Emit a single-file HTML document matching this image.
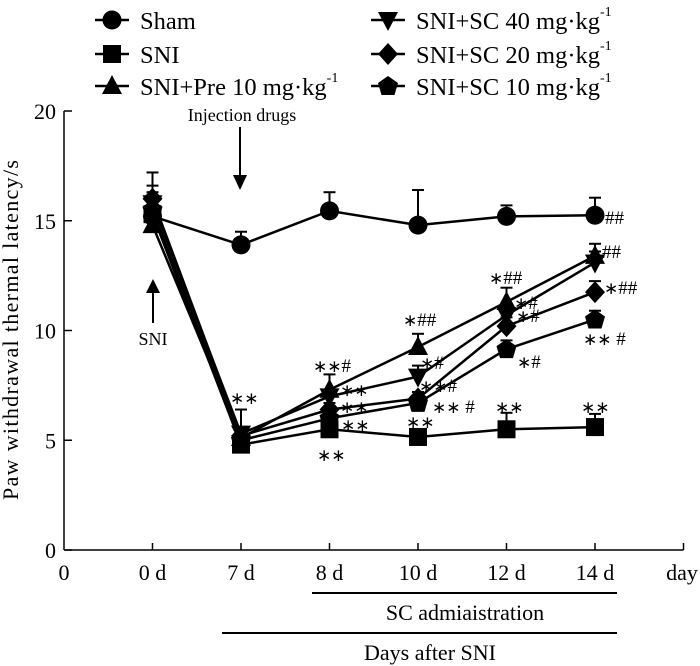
<!DOCTYPE html>
<html><head><meta charset="utf-8"><style>
body{margin:0;background:#fff}
svg{display:block;font-family:"Liberation Serif","Times New Roman",serif}
</style></head><body>
<svg id="chart" width="700" height="666" viewBox="0 0 700 666">
<g id="axes"></g>
<g id="series"></g>
<g id="legend"></g>
<g id="annot"></g>
</svg>
<script>
const categories = ["0 d","7 d","8 d","10 d","12 d","14 d"];
const xTickLabels = ["0","0 d","7 d","8 d","10 d","12 d","14 d","day"];
const yTicks = [0,5,10,15,20];
const seriesNames = ["Sham","SNI","SNI+Pre 10 mg·kg","SNI+SC 40 mg·kg","SNI+SC 20 mg·kg","SNI+SC 10 mg·kg"];
const shamVals = [15.2,13.9,15.45,14.8,15.2,15.25];
const sniVals  = [15.3,4.8,5.5,5.15,5.5,5.6];
const preVals  = [14.8,5.1,7.3,9.25,11.3,13.4];
const sc40Vals = [15.8,5.3,7.0,7.9,10.7,13.1];
const sc20Vals = [16.0,5.2,6.4,6.9,10.2,11.75];
const sc10Vals = [15.5,5.0,6.0,6.7,9.15,10.5];
const shamErr = [0.5,0.6,0.85,1.6,0.5,0.8];
const sniErr  = [0.4,0.3,0.3,0.3,0.75,0.6];
const preErr  = [0.5,1.3,0.7,0.6,0.65,0.55];
const sc40Err = [1.4,0.3,0.3,0.5,0.4,0.5];
const sc20Err = [0.6,0.3,0.3,0.3,0.4,0.5];
const sc10Err = [0.8,0.3,0.3,0.3,0.4,0.4];

const NS="http://www.w3.org/2000/svg";
const X0=64, DX=88.5, Y0=550, YK=21.95;
function xPos(i){return X0+DX*(i+1);}
function yPos(v){return Y0-v*YK;}
function mk(tag,attrs,parent,name,txt){
  const e=document.createElementNS(NS,tag);
  for(const k in attrs)e.setAttribute(k,attrs[k]);
  
  
  if(txt!==undefined)e.textContent=txt;
  parent.appendChild(e);return e;
}
const axes=document.getElementById('axes');
mk('line',{x1:X0,y1:yPos(20),x2:X0,y2:Y0,stroke:'#000','stroke-width':1.5},axes,'y-axis');
mk('line',{x1:X0,y1:Y0,x2:X0+DX*7,y2:Y0,stroke:'#000','stroke-width':1.5},axes,'x-axis');
yTicks.forEach(v=>{
  mk('line',{x1:X0,y1:yPos(v),x2:X0+8,y2:yPos(v),stroke:'#000','stroke-width':1.5},axes,'y-tick');
  mk('text',{x:56,y:yPos(v)+8,'font-size':22,'text-anchor':'end'},axes,'y-tick-label',String(v));
});
xTickLabels.forEach((t,i)=>{
  const x=X0+DX*i;
  if(i>0)mk('line',{x1:x,y1:Y0,x2:x,y2:Y0-7,stroke:'#000','stroke-width':1.5},axes,'x-tick');
  mk('text',{x:i==7?682:x,y:580,'font-size':22,'text-anchor':'middle'},axes,'x-tick-label',t);
});
mk('text',{x:0,y:0,'font-size':22,'text-anchor':'middle',transform:'translate(18,330) rotate(-90)',textLength:340},axes,'y-axis-title','Paw withdrawal thermal latency/s');
mk('line',{x1:312,y1:593,x2:617,y2:593,stroke:'#000','stroke-width':2},axes,'sc-bracket');
mk('text',{x:465,y:620,'font-size':22,'text-anchor':'middle'},axes,'sc-label','SC admiaistration');
mk('line',{x1:222,y1:633,x2:617,y2:633,stroke:'#000','stroke-width':2},axes,'days-bracket');
mk('text',{x:430,y:660,'font-size':22,'text-anchor':'middle'},axes,'x-axis-title','Days after SNI');

function marker(type,cx,cy,p,name){
  let pts;
  if(type==='circle')return mk('circle',{cx,cy,r:9.5,fill:'#000'},p,name);
  if(type==='square')return mk('rect',{x:cx-9,y:cy-9,width:18,height:18,fill:'#000'},p,name);
  if(type==='tri')pts=[[0,-11],[10,8],[-10,8]];
  if(type==='dtri')pts=[[-10,-8],[10,-8],[0,11]];
  if(type==='diamond')pts=[[0,-11],[10,0],[0,11],[-10,0]];
  if(type==='pent')pts=[[0,-10],[10,-3],[6.5,9],[-6.5,9],[-10,-3]];
  return mk('polygon',{points:pts.map(q=>(cx+q[0])+','+(cy+q[1])).join(' '),fill:'#000'},p,name);
}
const allSeries=[
 {v:shamVals,e:shamErr,m:'circle',n:'sham'},
 {v:sniVals,e:sniErr,m:'square',n:'sni'},
 {v:preVals,e:preErr,m:'tri',n:'pre-10'},
 {v:sc40Vals,e:sc40Err,m:'dtri',n:'sc-40'},
 {v:sc20Vals,e:sc20Err,m:'diamond',n:'sc-20'},
 {v:sc10Vals,e:sc10Err,m:'pent',n:'sc-10'}];
const sg=document.getElementById('series');
allSeries.forEach(s=>{
  const g=mk('g',{},sg,'series-'+s.n);
  mk('polyline',{points:s.v.map((v,i)=>xPos(i)+','+yPos(v)).join(' '),fill:'none',stroke:'#000','stroke-width':2.5},g,'line-'+s.n);
  s.v.forEach((v,i)=>{
    const x=xPos(i),yt=yPos(v+s.e[i]);
    mk('line',{x1:x,y1:yPos(v),x2:x,y2:yt,stroke:'#000','stroke-width':2},g,'error-bar-'+s.n);
    mk('line',{x1:x-6,y1:yt,x2:x+6,y2:yt,stroke:'#000','stroke-width':2},g,'error-cap-'+s.n);
  });
});
allSeries.forEach(s=>{
  s.v.forEach((v,i)=>marker(s.m,xPos(i),yPos(v),sg,'point-'+s.n));
});
const lg=document.getElementById('legend');
const legPos=[[112,20],[112,54],[112,86],[388,20],[388,54],[388,86]];
allSeries.forEach((s,i)=>{
  const [cx,cy]=legPos[i];
  const g=mk('g',{},lg,'legend-entry-'+s.n);
  mk('line',{x1:cx-17,y1:cy,x2:cx+17,y2:cy,stroke:'#000','stroke-width':2.5},g,'legend-line');
  marker(s.m,cx,cy,g,'legend-marker');
  const t=mk('text',{x:cx+28,y:cy+9,'font-size':24.5},g,'legend-label',seriesNames[i]);
  if(i>=2){mk('tspan',{dy:-13,'font-size':14},t,'superscript','-1');}
});
const an=document.getElementById('annot');
mk('text',{x:242,y:121,'font-size':18,'text-anchor':'middle'},an,'injection-label','Injection drugs');
mk('line',{x1:240,y1:127,x2:240,y2:178,stroke:'#000','stroke-width':2},an,'injection-arrow');
mk('polygon',{points:'233,175 247,175 240,190',fill:'#000'},an,'injection-arrowhead');
mk('line',{x1:153,y1:290,x2:153,y2:323,stroke:'#000','stroke-width':2},an,'sni-arrow');
mk('polygon',{points:'146,293 160,293 153,279',fill:'#000'},an,'sni-arrowhead');
mk('text',{x:153,y:345,'font-size':18,'text-anchor':'middle'},an,'sni-label','SNI');
const notes=[
 [230,404,'**'],[313,372,'**#'],[340,396,'**'],[340,413,'**'],[341,431,'**'],[317,461,'**'],
 [403,326,'*##'],[420,369,'*#'],[419,392,'**#'],[432,413,'** #'],[406,428,'**'],
 [489,284,'*##'],[514,309,'*#'],[516,322,'*#'],[517,368,'*#'],[495,413,'**'],
 [605,224,'##'],[602,258,'##'],[604,294,'*##'],[583,345,'** #'],[581,413,'**']];
notes.forEach(n=>{
  const t=mk('text',{x:n[0],y:n[1],'font-size':19},an,'significance-mark');
  n[2].split('').forEach(ch=>{
    if(ch==='*'){mk('tspan',{'font-size':17,'font-family':'DejaVu Sans, sans-serif'},t,'asterisk','∗');}
    else {mk('tspan',{'font-size':19},t,'hash',ch);}
  });
});
</script>
</body></html>
